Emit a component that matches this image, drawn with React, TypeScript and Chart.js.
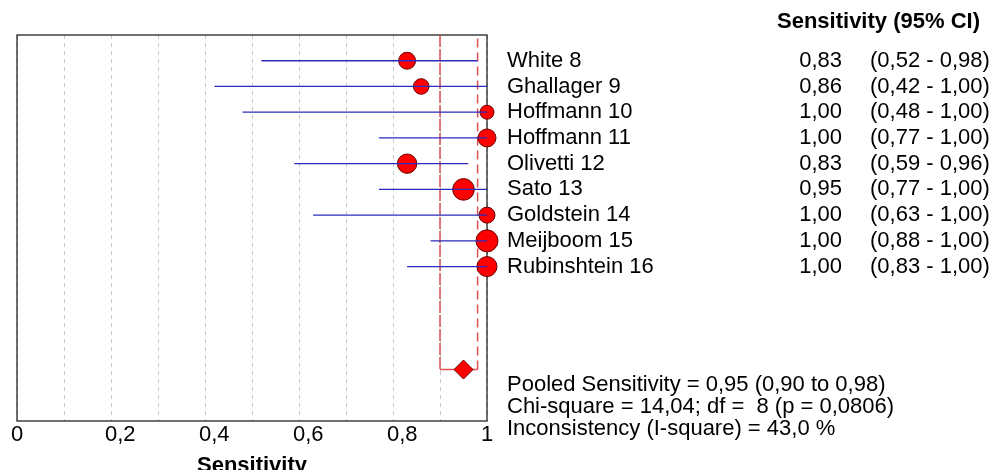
import { useEffect, useRef } from 'react';
import { Chart, registerables } from 'chart.js';

Chart.register(...registerables);

const FONT = "'Liberation Sans', Arial, sans-serif";

// ---- data ----
const studies = [
  'White 8',
  'Ghallager 9',
  'Hoffmann 10',
  'Hoffmann 11',
  'Olivetti 12',
  'Sato 13',
  'Goldstein 14',
  'Meijboom 15',
  'Rubinshtein 16',
];
const sensitivity = [0.83, 0.86, 1.0, 1.0, 0.83, 0.95, 1.0, 1.0, 1.0];
const ciLower = [0.52, 0.42, 0.48, 0.77, 0.59, 0.77, 0.63, 0.88, 0.83];
const ciUpper = [0.98, 1.0, 1.0, 1.0, 0.96, 1.0, 1.0, 1.0, 1.0];
const studyWeights = [72, 61, 49, 81, 94, 117, 64, 121, 100];
const pooledSensitivity = 0.95;
const pooledLower = 0.9;
const pooledUpper = 0.98;
const gridValues = [0, 0.1, 0.2, 0.3, 0.4, 0.5, 0.6, 0.7, 0.8, 0.9, 1.0];
const tickLabels = ['0', '0,2', '0,4', '0,6', '0,8', '1'];
const headerText = 'Sensitivity (95% CI)';
const axisTitle = 'Sensitivity';
const summaryLines = [
  'Pooled Sensitivity = 0,95 (0,90 to 0,98)',
  'Chi-square = 14,04; df =  8 (p = 0,0806)',
  'Inconsistency (I-square) = 43,0 %',
];

const POOLED_ROW = 12;

const fmt = (v: number) => v.toFixed(2).replace('.', ',');

export default function App() {
  const ref = useRef<HTMLCanvasElement | null>(null);

  useEffect(() => {
    document.body.style.margin = '0';
    const canvas = ref.current;
    if (!canvas) return;

    const ciData: any[] = [];
    studies.forEach((_, i) => {
      ciData.push({ x: ciLower[i], y: i });
      ciData.push({ x: ciUpper[i], y: i });
      ciData.push({ x: null, y: null });
    });

    const pointData = studies.map((_, i) => ({ x: sensitivity[i], y: i }));

    const bracketData = [
      { x: pooledLower, y: -1 },
      { x: pooledLower, y: POOLED_ROW },
      { x: pooledUpper, y: POOLED_ROW },
      { x: pooledUpper, y: -1 },
    ];

    const framePlugin = {
      id: 'frame',
      beforeDatasetsDraw(chart: any) {
        const { ctx, chartArea } = chart;
        ctx.save();
        ctx.strokeStyle = '#111';
        ctx.lineWidth = 1.2;
        ctx.strokeRect(
          chartArea.left,
          chartArea.top,
          chartArea.right - chartArea.left,
          chartArea.bottom - chartArea.top
        );
        ctx.restore();
      },
    };

    const textPlugin = {
      id: 'forestText',
      afterDraw(chart: any) {
        const ctx = chart.ctx;
        const ys = chart.scales.y;
        ctx.save();
        ctx.fillStyle = '#000';
        ctx.textBaseline = 'middle';
        ctx.textAlign = 'left';
        ctx.font = `bold 22px ${FONT}`;
        ctx.fillText(headerText, 777, 22);
        ctx.font = `22px ${FONT}`;
        studies.forEach((s, i) => {
          const py = ys.getPixelForValue(i);
          ctx.textAlign = 'left';
          ctx.fillText(s, 507, py);
          ctx.textAlign = 'right';
          ctx.fillText(fmt(sensitivity[i]), 842, py);
          ctx.textAlign = 'left';
          ctx.fillText(`(${fmt(ciLower[i])} - ${fmt(ciUpper[i])})`, 870, py);
        });
        summaryLines.forEach((t, k) => {
          ctx.fillText(t, 507, 385 + k * 22);
        });
        ctx.restore();
      },
    };

    const chart = new Chart(canvas, {
      type: 'line',
      data: {
        datasets: [
          {
            label: 'CI',
            data: ciData,
            borderColor: '#2b2bbf',
            borderWidth: 1.3,
            pointRadius: 0,
            spanGaps: false,
            fill: false,
            order: 0,
          } as any,
          {
            label: 'studies',
            data: pointData,
            showLine: false,
            pointRadius: studyWeights.map((w) => Math.sqrt(w)),
            pointBackgroundColor: '#ff0000',
            pointBorderColor: '#6a0000',
            pointBorderWidth: 1,
            clip: false,
            order: 1,
          } as any,
          {
            label: 'pooled',
            data: [{ x: pooledSensitivity, y: POOLED_ROW }],
            showLine: false,
            pointStyle: 'rectRot',
            pointRadius: 9.5,
            pointBackgroundColor: '#ff0000',
            pointBorderColor: '#6a0000',
            pointBorderWidth: 1,
            clip: false,
            order: 0,
          } as any,
          {
            label: 'pooledCI',
            data: bracketData,
            borderColor: '#dc5050',
            borderWidth: 1.5,
            pointRadius: 0,
            fill: false,
            segment: {
              borderDash: (c: any) => (c.p0DataIndex === 1 ? [] : [9, 5]),
            },
            order: 2,
          } as any,
        ],
      },
      options: {
        animation: false,
        responsive: false,
        events: [],
        layout: { padding: { left: 17, right: 504, top: 35, bottom: 0 } },
        plugins: {
          legend: { display: false },
          tooltip: { enabled: false },
        },
        scales: {
          x: {
            type: 'linear',
            min: 0,
            max: 1,
            afterBuildTicks: (scale: any) => {
              scale.ticks = gridValues.map((v) => ({ value: v }));
            },
            afterFit: (scale: any) => {
              scale.height = 49;
            },
            grid: {
              color: '#c8c8c8',
              lineWidth: 1,
              drawTicks: false,
            },
            border: { display: false, dash: [4, 4] },
            ticks: {
              align: 'start',
              labelOffset: -6,
              padding: 1,
              color: '#000',
              font: { family: FONT, size: 22 },
              maxRotation: 0,
              autoSkip: false,
              callback: (_v: any, index: number) =>
                index % 2 === 0 ? tickLabels[index / 2] : '',
            },
            title: {
              display: true,
              text: axisTitle,
              color: '#000',
              font: { family: FONT, size: 22, weight: 'bold' },
              padding: { top: 0, bottom: -9 },
            },
          },
          y: {
            type: 'linear',
            display: false,
            min: -1,
            max: 14,
            reverse: true,
          },
        },
      } as any,
      plugins: [framePlugin, textPlugin],
    });

    return () => chart.destroy();
  }, []);

  return (
    <canvas
      ref={ref}
      width={991}
      height={470}
      style={{ display: 'block', width: 991, height: 470 }}
    />
  );
}
